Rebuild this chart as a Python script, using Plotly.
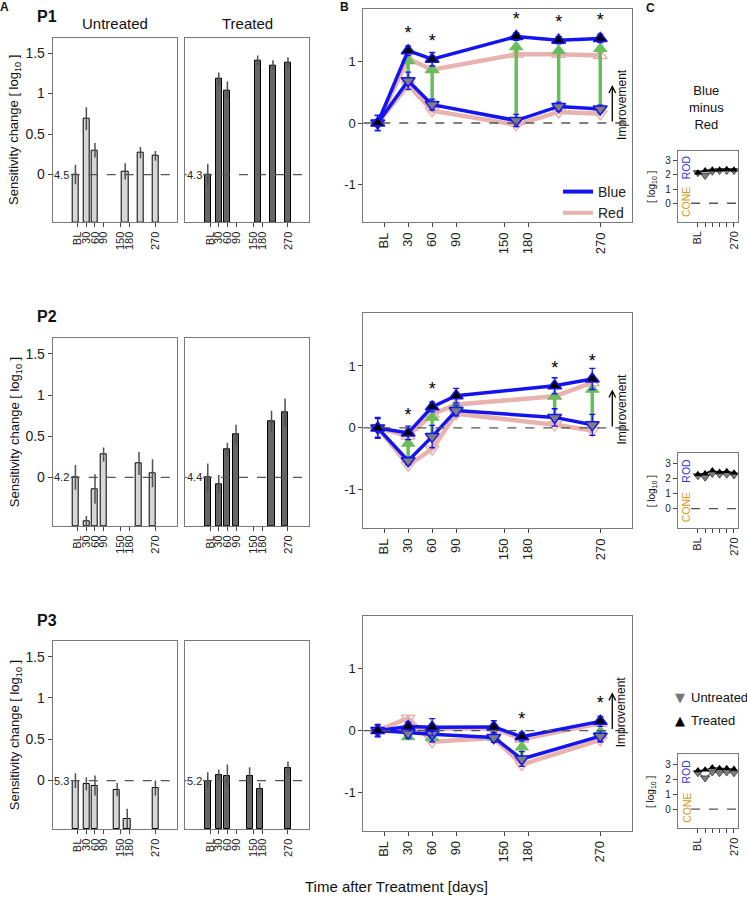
import plotly.graph_objects as go

W, H = 747, 900
FONT = "Liberation Sans, Arial, sans-serif"

# ---------------- data ----------------
tick_vals = [0, 30, 60, 90, 150, 180, 270]
tick_text = ["BL", "30", "60", "90", "150", "180", "270"]

p1_days = [-8, 30, 60, 165, 218, 270]
p2_days = [-8, 30, 60, 90, 213, 260]
p3_days = [-8, 30, 60, 137, 172, 270]

p1_blue_untreated = [0.00, 0.69, 0.30, 0.04, 0.27, 0.23]
p1_blue_untreated_err = [0.12, 0.14, 0.09, 0.10, 0.07, 0.06]
p1_blue_treated = [0.00, 1.18, 1.04, 1.41, 1.35, 1.38]
p1_blue_treated_err = [0.13, 0.08, 0.11, 0.06, 0.06, 0.07]
p1_red_untreated = [0.00, 0.62, 0.20, -0.03, 0.18, 0.15]
p1_red_treated = [0.00, 1.05, 0.87, 1.12, 1.12, 1.10]
p1_stars = [0, 1, 1, 1, 1, 1]
p1_baseline = ["4.5", "4.3"]
p1_diff_untreated = [2.15, 1.95, 2.25, 2.30, 2.30, 2.30]
p1_diff_treated = [2.15, 2.30, 2.35, 2.35, 2.40, 2.35]

p2_blue_untreated = [0.00, -0.53, -0.14, 0.28, 0.17, 0.05]
p2_blue_untreated_err = [0.15, 0.06, 0.18, 0.085, 0.14, 0.17]
p2_blue_treated = [0.00, -0.08, 0.34, 0.52, 0.68, 0.79]
p2_blue_treated_err = [0.17, 0.11, 0.08, 0.12, 0.13, 0.17]
p2_red_untreated = [0.00, -0.60, -0.34, 0.23, 0.05, -0.04]
p2_red_treated = [0.00, -0.13, 0.22, 0.38, 0.51, 0.73]
p2_stars = [0, 1, 1, 0, 1, 1]
p2_baseline = ["4.2", "4.4"]
p2_diff_untreated = [2.20, 2.10, 2.35, 2.30, 2.30, 2.25]
p2_diff_treated = [2.30, 2.35, 2.55, 2.45, 2.50, 2.40]

p3_blue_untreated = [0.00, -0.04, -0.06, -0.11, -0.46, -0.09]
p3_blue_untreated_err = [0.09, 0.08, 0.12, 0.08, 0.12, 0.09]
p3_blue_treated = [0.00, 0.065, 0.055, 0.06, -0.10, 0.15]
p3_blue_treated_err = [0.10, 0.07, 0.14, 0.10, 0.07, 0.08]
p3_red_untreated = [0.00, 0.20, -0.18, -0.12, -0.55, -0.15]
p3_red_treated = [0.00, 0.02, 0.03, 0.04, -0.14, 0.12]
p3_stars = [0, 0, 0, 0, 1, 1]
p3_baseline = ["5.3", "5.2"]
p3_diff_untreated = [2.45, 2.10, 2.50, 2.45, 2.50, 2.45]
p3_diff_treated = [2.60, 2.65, 2.80, 2.75, 2.75, 2.70]

c_positions = [0, 1, 2, 3, 4, 5]
c_tick_text = ["BL", "", "", "", "", "270"]

patients = [
    dict(name="P1", days=p1_days, bu=p1_blue_untreated, bue=p1_blue_untreated_err,
         bt=p1_blue_treated, bte=p1_blue_treated_err, ru=p1_red_untreated, rt=p1_red_treated,
         stars=p1_stars, base=p1_baseline, du=p1_diff_untreated, dt=p1_diff_treated),
    dict(name="P2", days=p2_days, bu=p2_blue_untreated, bue=p2_blue_untreated_err,
         bt=p2_blue_treated, bte=p2_blue_treated_err, ru=p2_red_untreated, rt=p2_red_treated,
         stars=p2_stars, base=p2_baseline, du=p2_diff_untreated, dt=p2_diff_treated),
    dict(name="P3", days=p3_days, bu=p3_blue_untreated, bue=p3_blue_untreated_err,
         bt=p3_blue_treated, bte=p3_blue_treated_err, ru=p3_red_untreated, rt=p3_red_treated,
         stars=p3_stars, base=p3_baseline, du=p3_diff_untreated, dt=p3_diff_treated),
]

# ---------------- styles / layout geometry ----------------
BLUE = "#1414f0"
PINK = "#e8b3ae"
GREEN = "#68bd5c"
LIGHT_BAR = "#d6d6d6"
DARK_BAR = "#666666"
AXC = "#7a7a7a"

A_RANGE_X = [-87, 344]
A_RANGE_Y = [-0.59, 1.69]
B_RANGE_X = [-26, 310]
B_RANGE_Y = [-1.62, 1.86]
C_RANGE_X = [-2.8, 5.6]
C_RANGE_Y = [-1.3, 3.7]

A_top = [37.7, 338.3, 641.0]
A_bot = [222.3, 526.0, 829.3]
B_top = [9.0, 312.7, 615.7]
B_bot = [222.3, 528.3, 830.7]
C_top = [150.7, 453.3, 754.3]
C_bot = [221.7, 528.0, 828.3]

fig = go.Figure()
layout = {}
annotations = []
shapes = []
axis_counter = [0]

common = dict(showline=True, mirror=True, linecolor=AXC, linewidth=1, showgrid=False,
              zeroline=False, ticks="outside", ticklen=4, tickcolor="#444", fixedrange=True)


def new_axes(x0, y0, x1, y1, xr, yr, xkw, ykw):
    axis_counter[0] += 1
    n = axis_counter[0]
    s = "" if n == 1 else str(n)
    xd = dict(common)
    xd.update(domain=[x0 / W, x1 / W], range=xr, anchor="y" + s)
    xd.update(xkw)
    yd = dict(common)
    yd.update(domain=[1 - y1 / H, 1 - y0 / H], range=yr, anchor="x" + s)
    yd.update(ykw)
    layout["xaxis" + s] = xd
    layout["yaxis" + s] = yd
    return "x" + s, "y" + s


def px(x, y):
    return x / W, 1 - y / H


def paper_text(x, y, text, size, bold=False, color="#111", angle=0, xanchor="center", family=FONT):
    xx, yy = px(x, y)
    annotations.append(dict(xref="paper", yref="paper", x=xx, y=yy, text=f"<b>{text}</b>" if bold else text,
                            showarrow=False, font=dict(size=size, color=color, family=family),
                            textangle=angle, xanchor=xanchor, yanchor="middle"))


def zero_dash(xa, ya, x0=0, x1=1):
    shapes.append(dict(type="line", xref=xa + " domain", yref=ya, x0=x0, x1=x1, y0=0, y1=0,
                       line=dict(color="#555", width=1.3, dash="dash"), layer="above"))


tickx_A = dict(tickvals=tick_vals, ticktext=tick_text, tickangle=-90, tickfont=dict(size=11, family=FONT, color="#222"))
tickx_B = dict(tickvals=tick_vals, ticktext=tick_text, tickangle=-90, tickfont=dict(size=13, family=FONT, color="#222"))

for r, p in enumerate(patients):
    days = p["days"]
    # ---- panel A: untreated and treated bars ----
    for k, (vals, errs, col, x0, x1) in enumerate([
        (p["bu"], p["bue"], LIGHT_BAR, 52.7, 176.7),
        (p["bt"], p["bte"], DARK_BAR, 185.0, 309.3),
    ]):
        if k == 0:
            ykw = dict(tickvals=[0, 0.5, 1, 1.5], ticktext=["0", "0.5", "1", "1.5"],
                       tickfont=dict(size=14, family=FONT, color="#222"))
        else:
            ykw = dict(showticklabels=False, ticks="")
        xa, ya = new_axes(x0, A_top[r], x1, A_bot[r], A_RANGE_X, A_RANGE_Y, tickx_A, ykw)
        ymin = A_RANGE_Y[0]
        fig.add_trace(go.Bar(x=days, y=[v - ymin for v in vals], base=ymin, width=21,
                             marker=dict(color=col, line=dict(color="black", width=1)),
                             xaxis=xa, yaxis=ya, showlegend=False, hoverinfo="skip"))
        fig.add_trace(go.Scatter(x=days, y=vals, mode="markers",
                                 marker=dict(size=1, color="rgba(0,0,0,0)"),
                                 error_y=dict(type="data", array=errs, color="#505050", thickness=1.5, width=0),
                                 xaxis=xa, yaxis=ya, showlegend=False, hoverinfo="skip"))
        zero_dash(xa, ya)
        annotations.append(dict(xref=xa + " domain", yref=ya, x=0.005, y=0, text=p["base"][k],
                                showarrow=False, xanchor="left", yanchor="middle", bgcolor="white",
                                borderpad=0, font=dict(size=11, family=FONT, color="#222")))
    paper_text(15, (A_top[r] + A_bot[r]) / 2, "Sensitivity change [ log<sub>10</sub> ]", 13, angle=-90)

    # ---- panel B ----
    xa, ya = new_axes(363.3, B_top[r], 632.3, B_bot[r], B_RANGE_X, B_RANGE_Y, tickx_B,
                      dict(tickvals=[-1, 0, 1], ticktext=["-1", "0", "1"],
                           tickfont=dict(size=13, family=FONT, color="#222")))
    zero_dash(xa, ya)
    # red series
    fig.add_trace(go.Scatter(x=days, y=p["ru"], mode="lines+markers", line=dict(color=PINK, width=4.5),
                             marker=dict(symbol="triangle-down-open", size=12, color=PINK, line=dict(width=1.5)),
                             xaxis=xa, yaxis=ya, showlegend=False, hoverinfo="skip"))
    fig.add_trace(go.Scatter(x=days, y=p["rt"], mode="lines+markers", line=dict(color=PINK, width=4.5),
                             marker=dict(symbol="triangle-up-open", size=12, color=PINK, line=dict(width=1.5)),
                             xaxis=xa, yaxis=ya, showlegend=False, hoverinfo="skip"))
    # green arrows untreated -> treated
    gx, gy, hx, hy = [], [], [], []
    for i in range(1, len(days)):
        gx += [days[i], days[i], None]
        gy += [p["bu"][i], p["bt"][i] - 0.12, None]
        hx.append(days[i])
        hy.append(p["bt"][i] - 0.17)
    fig.add_trace(go.Scatter(x=gx, y=gy, mode="lines", line=dict(color=GREEN, width=3.5),
                             xaxis=xa, yaxis=ya, showlegend=False, hoverinfo="skip"))
    fig.add_trace(go.Scatter(x=hx, y=hy, mode="markers",
                             marker=dict(symbol="triangle-up", size=13, color=GREEN, line=dict(width=0)),
                             xaxis=xa, yaxis=ya, showlegend=False, hoverinfo="skip"))
    # blue series
    fig.add_trace(go.Scatter(x=days, y=p["bu"], mode="lines+markers", line=dict(color=BLUE, width=3.5),
                             marker=dict(symbol="triangle-down", size=12, color="#7f7f7f",
                                         line=dict(color=BLUE, width=1.5)),
                             error_y=dict(type="data", array=p["bue"], color=BLUE, thickness=1.3, width=3),
                             xaxis=xa, yaxis=ya, showlegend=False, hoverinfo="skip"))
    fig.add_trace(go.Scatter(x=days, y=p["bt"], mode="lines+markers", line=dict(color=BLUE, width=3.5),
                             marker=dict(symbol="triangle-up", size=12, color="black",
                                         line=dict(color=BLUE, width=1.5)),
                             error_y=dict(type="data", array=p["bte"], color=BLUE, thickness=1.3, width=3),
                             xaxis=xa, yaxis=ya, showlegend=False, hoverinfo="skip"))
    sx = [d for d, s in zip(days, p["stars"]) if s]
    sy = [v + 0.27 for v, s in zip(p["bt"], p["stars"]) if s]
    fig.add_trace(go.Scatter(x=sx, y=sy, mode="text", text=["*"] * len(sx), textposition="middle center",
                             textfont=dict(size=18, family=FONT, color="black"),
                             xaxis=xa, yaxis=ya, showlegend=False, hoverinfo="skip"))
    # improvement arrow
    annotations.append(dict(xref=xa, yref=ya, x=285, y=0.62, ax=285, ay=0.0, axref=xa, ayref=ya,
                            text="", showarrow=True, arrowhead=5, arrowsize=1, arrowwidth=1.3,
                            arrowcolor="black"))
    annotations.append(dict(xref=xa, yref=ya, x=297, y=0.31, text="Improvement", showarrow=False,
                            xanchor="center", yanchor="middle",
                            textangle=-90, font=dict(size=12, family=FONT, color="#111")))

    # ---- panel C ----
    xa, ya = new_axes(677.7, C_top[r], 738.3, C_bot[r], C_RANGE_X, C_RANGE_Y,
                      dict(tickvals=c_positions, ticktext=c_tick_text, tickangle=-90,
                           tickfont=dict(size=11, family=FONT, color="#222")),
                      dict(tickvals=[0, 1, 2, 3], ticktext=["0", "1", "2", "3"],
                           tickfont=dict(size=10, family=FONT, color="#222")))
    zero_dash(xa, ya, 0.22, 1)
    fig.add_trace(go.Scatter(x=c_positions, y=p["du"], mode="lines+markers", line=dict(color="#333", width=1),
                             marker=dict(symbol="triangle-down", size=8, color="#7f7f7f",
                                         line=dict(color="#333", width=0.8)),
                             xaxis=xa, yaxis=ya, showlegend=False, hoverinfo="skip"))
    fig.add_trace(go.Scatter(x=c_positions, y=p["dt"], mode="lines+markers", line=dict(color="black", width=1),
                             marker=dict(symbol="triangle-up", size=7, color="black"),
                             xaxis=xa, yaxis=ya, showlegend=False, hoverinfo="skip"))
    annotations.append(dict(xref=xa + " domain", yref=ya, x=0.14, y=2.55, text="ROD", showarrow=False,
                            xanchor="center", yanchor="middle",
                            textangle=-90, font=dict(size=10.5, family=FONT, color="#3434d8")))
    annotations.append(dict(xref=xa + " domain", yref=ya, x=0.14, y=0.1, text="CONE", showarrow=False,
                            xanchor="center", yanchor="middle",
                            textangle=-90, font=dict(size=10.5, family=FONT, color="#cf9a22")))
    paper_text(651.7, (C_top[r] + C_bot[r]) / 2 + 1, "[ log<sub>10</sub> ]", 10, angle=-90)

    # patient label
    paper_text(47, [17, 316, 620][r], p["name"], 16, bold=True)

# legend for Blue / Red (plotly legend)
fig.add_trace(go.Scatter(x=[None], y=[None], mode="lines", name="Blue", line=dict(color=BLUE, width=4),
                         legend="legend"))
fig.add_trace(go.Scatter(x=[None], y=[None], mode="lines", name="Red", line=dict(color=PINK, width=4),
                         legend="legend"))

# legend for Untreated / Treated (text keys)
paper_text(680, 697, "▼", 13, color="#777777", family="DejaVu Sans")
paper_text(689, 697, "Untreated", 13, xanchor="left")
paper_text(680, 720, "▲", 13, color="black", family="DejaVu Sans")
paper_text(689, 720, "Treated", 13, xanchor="left")

# headers / labels
paper_text(4, 7, "A", 12, bold=True)
paper_text(344, 7, "B", 12, bold=True)
paper_text(650, 8, "C", 12, bold=True)
paper_text(115, 24, "Untreated", 15)
paper_text(247, 24, "Treated", 15)
paper_text(706.7, 107, "Blue<br>minus<br>Red", 13)
paper_text(396, 886, "Time after Treatment [days]", 15)

lx, ly = px(558, 176)
fig.update_layout(
    width=W, height=H, autosize=False,
    margin=dict(l=0, r=0, t=0, b=0),
    paper_bgcolor="white", plot_bgcolor="white",
    font=dict(family=FONT, color="#222"),
    showlegend=True,
    legend=dict(x=lx, y=ly, xanchor="left", yanchor="top", bgcolor="rgba(0,0,0,0)",
                font=dict(size=14, family=FONT), itemwidth=30, tracegroupgap=0),
    annotations=annotations,
    shapes=shapes,
    bargap=0,
    **layout,
)

fig.write_html("out.html", config={"displayModeBar": False},
               post_script="document.body.style.margin='0';document.body.style.overflow='hidden';")
